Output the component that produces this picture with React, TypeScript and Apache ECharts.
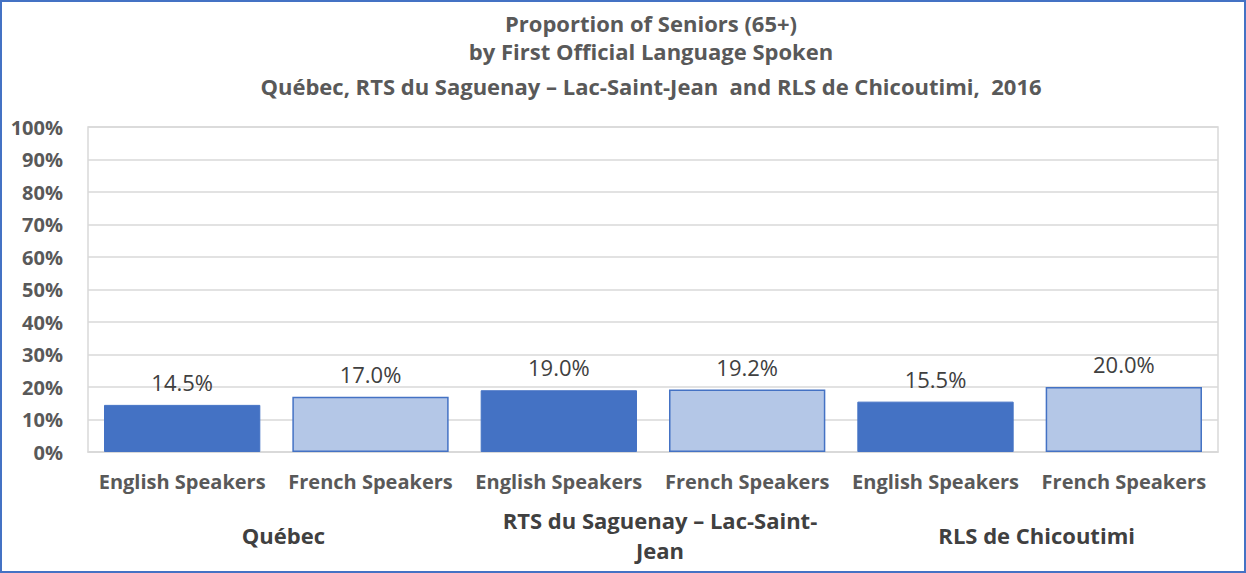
import React, { useEffect, useRef } from "react";
import * as echarts from "echarts";

const subCategories = ["English Speakers", "French Speakers", "English Speakers", "French Speakers", "English Speakers", "French Speakers"];
const groups = ["Québec", "RTS du Saguenay – Lac-Saint-\nJean", "RLS de Chicoutimi"];
const values = [14.5, 17.0, 19.0, 19.2, 15.5, 20.0];
const titleLines = [
  "Proportion of Seniors (65+)",
  "by First Official Language Spoken",
  "Québec, RTS du Saguenay – Lac-Saint-Jean  and RLS de Chicoutimi,  2016",
];

const FONT = "'Open Sans', 'Noto Sans', sans-serif";
const DARK = "#4472C4";
const LIGHT = "#B4C7E7";

export default function App() {
  const ref = useRef<HTMLDivElement>(null);
  useEffect(() => {
    if (!ref.current) return;
    const chart = echarts.init(ref.current, undefined, { renderer: "svg" });
    const titleY = [23, 51, 86];
    chart.setOption({
      animation: false,
      backgroundColor: "#fff",
      textStyle: { fontFamily: FONT },
      graphic: [
        {
          type: "rect",
          shape: { x: 1, y: 1, width: 1244, height: 571 },
          style: { fill: "none", stroke: DARK, lineWidth: 2 },
          silent: true,
        },
        ...titleLines.map((t, i) => ({
          type: "text",
          x: 651,
          y: titleY[i],
          silent: true,
          style: {
            text: t,
            align: "center",
            verticalAlign: "middle",
            fontFamily: FONT,
            fontSize: 22,
            fontWeight: "bold",
            fill: "#595959",
          },
        })),
      ],
      grid: {
        left: 88,
        right: 28,
        top: 127,
        bottom: 121,
        show: true,
        borderColor: "#D9D9D9",
        borderWidth: 1.5,
      },
      xAxis: [
        {
          type: "category",
          data: subCategories,
          position: "bottom",
          axisLine: { show: true, lineStyle: { color: "#D9D9D9", width: 1.5 } },
          axisTick: { show: false },
          axisLabel: {
            interval: 0,
            margin: 19,
            fontFamily: FONT,
            fontSize: 20,
            fontWeight: "bold",
            color: "#595959",
          },
        },
        {
          type: "category",
          data: groups,
          position: "bottom",
          axisLine: { show: false },
          axisTick: { show: false },
          axisLabel: {
            interval: 0,
            margin: 83,
            verticalAlign: "middle",
            lineHeight: 30,
            padding: [0, 0, 0, 14],
            fontFamily: FONT,
            fontSize: 22,
            fontWeight: "bold",
            color: "#404040",
          },
        },
      ],
      yAxis: {
        type: "value",
        min: 0,
        max: 100,
        interval: 10,
        axisLine: { show: false },
        axisTick: { show: false },
        splitLine: { lineStyle: { color: "#D9D9D9", width: 1.5 } },
        axisLabel: {
          margin: 25,
          formatter: "{value}%",
          fontFamily: FONT,
          fontSize: 20,
          fontWeight: "bold",
          color: "#595959",
        },
      },
      series: [
        {
          type: "bar",
          xAxisIndex: 0,
          barCategoryGap: "17%",
          data: values.map((v, i) => ({
            value: v,
            itemStyle: i % 2 === 0
              ? { color: DARK, borderColor: DARK, borderWidth: 1 }
              : { color: LIGHT, borderColor: DARK, borderWidth: 1.5 },
          })),
          label: {
            show: true,
            position: "top",
            distance: 12,
            formatter: (p: any) => p.value.toFixed(1) + "%",
            fontFamily: FONT,
            fontSize: 22,
            color: "#404040",
          },
        },
      ],
    });
    return () => chart.dispose();
  }, []);
  return (
    <div
      ref={ref}
      style={{ position: "fixed", left: 0, top: 0, width: 1246, height: 573 }}
    />
  );
}
